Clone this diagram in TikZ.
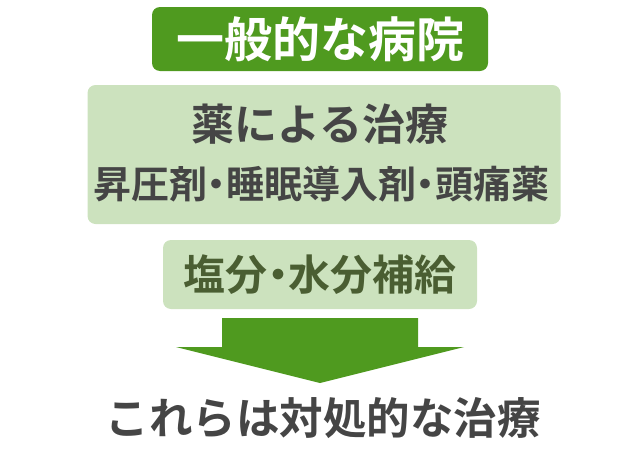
\documentclass[tikz,border=0pt]{standalone}
\usepackage{fontspec}
\setmainfont{Noto Sans CJK JP}[BoldFont={Noto Sans CJK JP Bold}]
\definecolor{leaf}{HTML}{4F9A1F}
\definecolor{pale}{HTML}{CCE2BE}
\definecolor{ink}{HTML}{454545}
\definecolor{moss}{HTML}{4A5E32}
\newcommand{\nkdot}{{\addfontfeature{RawFeature=+halt}・}}

\begin{document}
\begin{tikzpicture}[x=1pt,y=-1pt,
  box/.style={rectangle,rounded corners=8pt,inner sep=0pt},
  txt/.style={inner sep=0pt,font=\bfseries}]
\useasboundingbox (0,0) rectangle (640,450);
\node [box,fill=leaf,minimum width=336pt,minimum height=64pt,text=white,
  font=\bfseries\fontsize{48}{48}\selectfont] (hospital) at (320,39) {一般的な病院};
\node [box,fill=pale,minimum width=473pt,minimum height=139pt] (drugs) at (324,154.5) {};
\node [txt,text=ink,font=\bfseries\fontsize{43}{43}\selectfont] (drugtitle) at (320,124) {薬による治療};
\node [txt,text=ink,font=\bfseries\fontsize{38}{38}\selectfont] (druglist) at (321,184) {昇圧剤\nkdot 睡眠導入剤\nkdot 頭痛薬};
\node [box,fill=pale,minimum width=314pt,minimum height=69pt,text=moss,
  font=\bfseries\fontsize{42}{42}\selectfont] (salt) at (320,274.5) {塩分\nkdot 水分補給};
\coordinate (tip) at (320,383);
\fill [leaf] (222,318) -- (418,318) -- (418,347) -- (464,347) -- (tip)
  -- (176,347) -- (222,347) -- cycle;
\node [txt,text=ink,font=\bfseries\fontsize{43.5}{43.5}\selectfont] (result) at (323,418) {これらは対処的な治療};
\end{tikzpicture}
\end{document}
